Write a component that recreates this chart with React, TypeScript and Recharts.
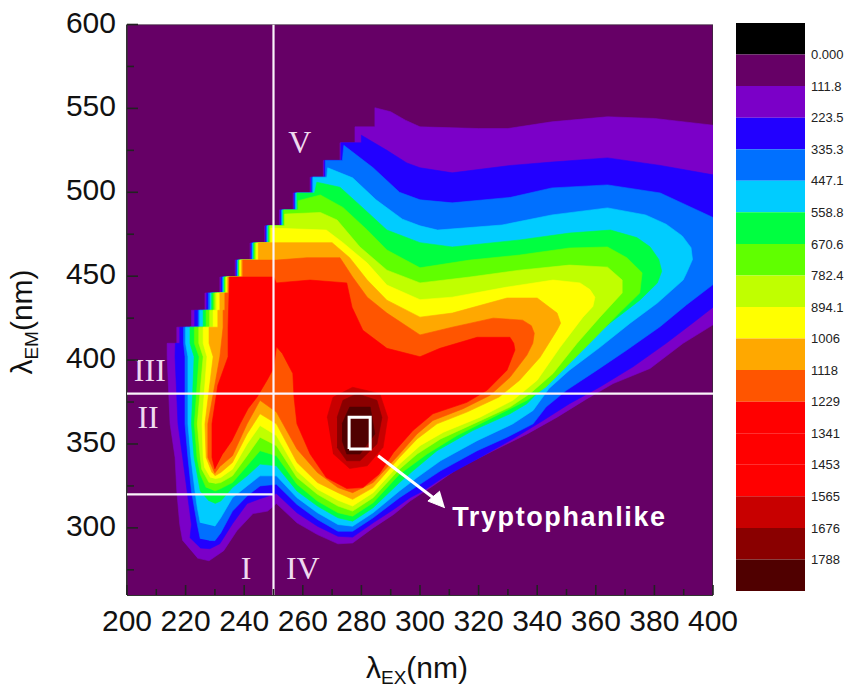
import React from 'react';
import { ScatterChart, Scatter, XAxis, YAxis, BarChart, Bar } from 'recharts';

type P = [number, number];

// Excitation / emission boundaries (nm) of every filled contour level
const plotFrame: P[] = [[200, 260], [200, 600], [400, 600], [400, 260]];
const level1: P[] = [[219,292.4],[218,302],[217,322],[216.4,342],[214.7,362],[213.7,402],[213.7,410],[217,410],[217,419.6],[222,419.6],[222,429.7],[226.6,429.7],[226.6,440],[231.7,440],[231.7,449.5],[236.9,449.5],[236.9,459.6],[242,459.6],[242,469.8],[247,469.8],[247,480],[252,480],[252,489.5],[256.7,489.5],[256.7,499.6],[262.5,499.6],[262.5,509],[267,509],[267,519],[272.7,519],[272.7,529.5],[277.8,529.5],[277.8,539],[284.6,539],[284.6,550.4],[290,548],[295,543],[300,539],[320,538],[330,538],[345,542],[364,545],[380,544],[400,540],[400,421],[389.8,410],[378.5,395],[365.9,386],[357,377],[346.8,366],[336.6,356],[325,346],[312.6,335],[304.4,325],[296.6,316],[291,308],[284,300],[277,291],[272,290.5],[265,296],[258,303],[251,314.5],[248,310],[243,308.5],[237.5,298.3],[233,286.4],[228,280.4],[224,282]];
const level2: P[] = [[221.5,294],[222,302],[220.5,322],[219,342],[217.4,362],[216.4,402],[216.5,410],[218,410],[218,419.6],[223.1,419.6],[223.1,429.7],[227.2,429.7],[227.2,440],[232.1,440],[232.1,449.5],[237.2,449.5],[237.2,459.6],[242.3,459.6],[242.3,469.8],[247.3,469.8],[247.3,480],[252.3,480],[252.3,489.5],[257,489.5],[257,499.6],[262.8,499.6],[262.8,509],[267.3,509],[267.3,519],[273,519],[273,529.5],[280,529.5],[280,534],[288.7,525],[295.5,517.5],[300,514.6],[311,511.6],[331,516],[345,518],[364,520.5],[382,516],[400,510.4],[400,431.5],[393,422],[384,410],[372.7,396],[361.4,384],[351,374],[342,364],[331.7,353],[320.5,342],[307.9,330],[301,322],[296.6,318],[291,311],[284,303],[277,294.5],[272,295],[265,301],[258,309],[251,320.5],[245.4,317.4],[241,314.5],[236,302.5],[231.7,290.6],[228.3,287.6],[225,288]];
const level3: P[] = [[225,293.5],[224,302],[222,322],[220.8,342],[219.8,362],[219.8,402],[219.3,410],[219.3,419.6],[224.3,419.6],[224.3,429.7],[227.8,429.7],[227.8,440],[232.5,440],[232.5,449.5],[237.5,449.5],[237.5,459.6],[242.6,459.6],[242.6,469.8],[247.6,469.8],[247.6,480],[252.6,480],[252.6,489.5],[257.3,489.5],[257.3,499.6],[263.1,499.6],[263.1,509],[267.7,509],[267.7,519],[273.5,519],[274,528],[284,514.6],[293,500],[300,495.5],[311,493.7],[331,497],[345,502.6],[364,504.4],[382,499.6],[400,485],[400,445],[391,433],[382,420],[370.6,406],[360.4,394],[350,382],[343,372],[338.6,362],[329.7,354],[319.5,346],[307,334],[300,326],[293,318],[284,306],[277,298],[272,298],[265,305],[258,314],[251,326],[245.4,325],[241,319],[236,310],[232,297],[230,292.4],[228,292.5]];
const level4: P[] = [[225,303],[224,312],[223.2,322],[221.8,342],[220.8,362],[220.8,402],[220,410],[220,419.6],[224.8,419.6],[224.8,429.7],[228.4,429.7],[228.4,440],[232.8,440],[232.8,449.5],[237.8,449.5],[237.8,459.6],[242.9,459.6],[242.9,469.8],[247.9,469.8],[247.9,480],[252.9,480],[252.9,489.5],[257.6,489.5],[257.6,499.6],[263.5,499.6],[263.5,509],[268.2,509],[268.5,514.6],[277,508.6],[285,495.5],[294,484],[300,480],[306,477.5],[328,480.5],[345,486.5],[364,490.7],[377,486.5],[384,481],[389.5,474],[392.5,467],[393,460],[391,452],[389.8,447.7],[381,434],[371.7,422],[361.4,407.6],[351,394],[344,383],[338.6,370],[331.7,362],[319.5,352],[307,340],[299,330],[293,322],[284,309],[277,301],[272,302],[265,309],[258,318],[251,331],[245.4,331],[241,325],[236,318],[232,306],[230,301]];
const level5: P[] = [[228,316],[225,322],[222.9,342],[222,362],[222.9,402],[221.5,410],[221.5,419.6],[226,419.6],[226,429.7],[228.9,429.7],[228.9,440],[233.1,440],[233.1,449.5],[238,449.5],[238,459.6],[243.2,459.6],[243.2,469.8],[248.2,469.8],[248.2,480],[253.2,480],[253.2,489.5],[258,489.5],[258,499.6],[264,499.6],[264.8,506],[272.7,503],[280.5,490.7],[288.7,477.5],[300,470],[311,467.4],[334,471.6],[351,475.7],[365,477.5],[374,473],[378.5,467.5],[381.5,460],[382.5,453],[381,446],[375,435.7],[364.8,422],[354.6,407.6],[346.8,394],[341,382],[336.5,374],[330.7,368],[318,358],[305.8,346],[297.6,334],[293,327],[284,312],[277,304],[272,306],[265,313],[258,322],[251,337],[245.4,338],[241,331],[236,324],[232,316],[230,314.5]];
const level6: P[] = [[227,324],[225,332],[223.9,342],[223,362],[224.6,402],[223,410],[223,419.6],[227,419.6],[227,429.7],[229.5,429.7],[229.5,440],[233.4,440],[233.4,449.5],[238.2,449.5],[238.2,459.6],[243.5,459.6],[243.5,469.8],[248.5,469.8],[248.5,480],[253.5,480],[253.5,489.5],[258.4,489.5],[258.4,495],[266,498.4],[273.7,491],[282,477.5],[288.7,465.6],[300,455],[317,459.6],[334,462.6],[351,466.8],[364,467.4],[370.6,461],[375.8,452],[375,440],[368,428],[359,412],[351,398],[343,384],[336.5,376],[325,366],[312.6,355],[302.4,344],[293,332],[284,315],[277,307],[272,309],[265,316],[258,326],[251,343],[245.4,346],[241,337],[236,327],[232,323.4],[230,322]];
const level7: P[] = [[228,327],[225.5,335],[225,342],[224,362],[226,402],[224.5,410],[224.5,419.6],[228.2,419.6],[228.2,429.7],[230,429.7],[230,440],[233.7,440],[233.7,449.5],[238.4,449.5],[238.4,459.6],[243.8,459.6],[243.8,469.8],[248.8,469.8],[248.8,480],[253.8,480],[253.8,487],[266,488],[271.7,483.5],[279.5,467.4],[288.7,453.6],[300,446],[317,449.5],[334,453.6],[351,456.6],[364,455.4],[369,447.7],[369,440],[361.4,425.6],[353.6,410],[345.4,392],[337.5,380],[330.7,372],[319.5,363],[307,353],[299,344],[293,335],[284,318],[277,310],[272,313],[265,320],[258,330],[251,349],[245.4,354],[241,343],[236,331],[232,327],[230,326.4]];
const level8: P[] = [[228.5,330],[226.5,336],[226,342],[225.6,362],[227.3,402],[226,410],[226,419.6],[229.4,419.6],[229.4,429.7],[230.6,429.7],[230.6,440],[233.9,440],[233.9,449.5],[238.6,449.5],[238.6,459.6],[244.2,459.6],[244.2,469.8],[249.1,469.8],[249.1,478.7],[268,477.5],[273.7,470],[282,457.8],[288.7,444.7],[300,436],[311,437.5],[329.7,443.5],[345.4,447.7],[354.6,446],[358,442],[359.7,437.5],[359,432],[355.6,425.6],[347.8,407.6],[340,388],[331.7,376],[320.5,366],[308,357],[300,349],[293,338],[284,321],[277,313],[272,316.5],[265,323],[258,334],[251,355],[245.4,361],[241,350],[236,335],[232,330],[230,329.3]];
const level9: P[] = [[229,333],[227,342],[226.6,362],[229.4,402],[228,410],[228,419.6],[231,419.6],[231,429.7],[231.7,429.7],[231.7,440],[234.2,440],[234.2,449.5],[239,449.5],[239,459.6],[244.8,459.6],[244.8,470],[270,470],[276,461],[282,447.7],[288.7,435.7],[300,425.6],[311,428],[329.7,437],[340,437],[346.8,428],[348,422],[346.8,418],[341,401.7],[334,388],[327,378],[316,369],[305.8,362],[299,353],[293,342],[284,324],[277,317],[272,321],[265,327],[258,339],[251,362],[245.4,368],[241,356],[236,339],[232,333],[230,331]];
const level10: P[] = [[230,332.4],[227.6,342],[227.6,362],[231.7,402],[232.8,419.6],[232.8,429.7],[233.4,429.7],[233.4,440],[234.7,440],[234.7,449.5],[239.5,449.5],[239.5,459.6],[251,459.6],[261.4,461],[272.7,461],[277,449.5],[282,437.5],[288.7,428],[300,415],[311,419.6],[325,425],[335,423.8],[338,420.5],[339,416],[338.5,410],[336.5,403],[330.7,389.7],[323.9,379],[314.7,371],[304.4,364],[299,356],[293,344],[284,327],[277,321],[272,324],[265,333],[258,347],[251,369],[245.4,376],[241,362],[236,343],[232,337]];
const level11: P[] = [[230,335],[229,342],[229,362],[231,385],[234.5,402],[234.5,420],[235,449.5],[250,449.5],[251,446],[262.5,447.7],[275,446],[276.8,431.5],[280.5,417.8],[288.7,407],[300,402],[306.8,407],[319.5,413.6],[330.7,413.6],[332,410],[332.4,406],[329.7,394],[322.9,382],[316,374.8],[304.4,368],[297.6,358],[291,345],[286,332],[280.5,324],[275,323.5],[268,330],[262.5,344],[258,362],[257,378],[256.6,392],[253,404],[251,408],[250,395],[247.8,388],[244.4,378],[241.3,371],[238.6,362],[235.8,352],[232.8,344.4]];
const level12: P[] = [[268.3,365.8],[270.3,377.8],[277,383.8],[286.3,380],[289,365.8],[287.4,348],[282,337],[276,335.4],[270.3,344.3]];
const level13: P[] = [[271.7,365.8],[273.7,376],[278.5,380],[285.3,376],[287,365.8],[285.3,350],[279.5,340],[275,340],[271.7,348]];
const level14: P[] = [[273.4,362],[276,372],[283,372],[284.6,356],[279.5,344],[275,344],[273.4,352]];

const levels: P[][] = [plotFrame, level1, level2, level3, level4, level5, level6, level7, level8, level9, level10, level11, level12, level13, level14];
const levelColors = ['#660066', '#7b00c8', '#2200ff', '#0070ff', '#00ccff', '#00ff40', '#60ff00', '#c0ff00', '#ffff00', '#ffa800', '#ff5500', '#ff0000', '#c80000', '#8a0000', '#500000'];

// White region dividers and annotations
const dividerV: P[] = [[250, 260], [250, 600]];
const dividerH: P[] = [[200, 380], [400, 380]];
const dividerLow: P[] = [[200, 320], [250, 320]];
const peakBox: P[] = [[275.8, 347], [275.8, 366], [283, 366], [283, 347], [275.8, 347]];
const arrowShaft: P[] = [[285.7, 343], [306, 316]];
const arrowHead: P[] = [[308.5, 312], [302.7, 316], [306.8, 322]];
const regionNames = ['III', 'II', 'I', 'IV', 'V'];
const regionX = [207.8, 207.2, 240.6, 260, 259];
const regionY = [394, 366, 276, 276, 530];
const peakName = 'Tryptophanlike';
const peakNamePos: P = [311, 301];

// Axes
const xMajor = [200, 220, 240, 260, 280, 300, 320, 340, 360, 380, 400];
const xMinor = [210, 230, 250, 270, 290, 310, 330, 350, 370, 390];
const yMajor = [300, 350, 400, 450, 500, 550, 600];
const yMinor = [275, 325, 375, 425, 475, 525, 575];

// Colour scale
const scaleLabels = ['0.000', '111.8', '223.5', '335.3', '447.1', '558.8', '670.6', '782.4', '894.1', '1006', '1118', '1229', '1341', '1453', '1565', '1676', '1788'];
const scaleColors = ['#000000', '#660066', '#7b00c8', '#2200ff', '#0070ff', '#00ccff', '#00ff40', '#60ff00', '#c0ff00', '#ffff00', '#ffa800', '#ff5500', '#ff0000', '#ff0000', '#ff0000', '#c80000', '#8a0000', '#500000'];
const scaleTicks = [1, 2, 3, 4, 5, 6, 7, 8, 9, 10, 11, 12, 13, 14, 15, 16, 17];

const toPts = (a: P[]) => a.map(([x, y]) => ({ x, y }));
const NoDot = () => <g />;
const SANS = '"Liberation Sans", Arial, sans-serif';

const XTick = ({ x, y, payload }: any) => {
  const major = xMajor.includes(payload.value);
  return (
    <g>
      <line x1={x} x2={x} y1={y} y2={y - (major ? 10 : 6)} stroke="#222" strokeWidth={1.6} />
      {major && <text x={x} y={y + 36} textAnchor="middle" fontSize={30} fontFamily={SANS} fill="#111">{payload.value}</text>}
    </g>
  );
};
const YTick = ({ x, y, payload }: any) => {
  const major = yMajor.includes(payload.value);
  return (
    <g>
      <line x1={x} x2={x + (major ? 11 : 7)} y1={y} y2={y} stroke="#222" strokeWidth={1.6} />
      {major && <text x={x - 11} y={y + 8} textAnchor="end" fontSize={30} fontFamily={SANS} fill="#111">{payload.value}</text>}
    </g>
  );
};

const RegionLabel = (p: any) => (
  <text x={p.cx} y={p.cy + 11} textAnchor="middle" fontSize={32} fontFamily='"Liberation Serif", serif' fill="#efd9ef">{p.payload.name}</text>
);
const PeakLabel = (p: any) => (
  <text x={p.cx} y={p.cy} fontSize={27} fontWeight="bold" letterSpacing={1.6} fontFamily={SANS} fill="#ffffff">{peakName}</text>
);

const xLabel = (p: any) => {
  const vb = p.viewBox;
  return (
    <text x={vb.x + vb.width / 2 - 3} y={vb.y + 83} textAnchor="middle" fontSize={30} fontFamily={SANS} fill="#111">
      λ<tspan fontSize={19} dy={6}>EX</tspan><tspan dy={-6}>(nm)</tspan>
    </text>
  );
};
const yLabel = () => (
  <text transform="rotate(-90 32 322)" x={32} y={322} textAnchor="middle" fontSize={30} fontFamily={SANS} fill="#111">
    λ<tspan fontSize={19} dy={6}>EM</tspan><tspan dy={-6}>(nm)</tspan>
  </text>
);

const white = { fill: 'none', stroke: '#fbf4fb', strokeWidth: 2.2 };

export default function App() {
  const scaleRow = [Object.fromEntries(scaleColors.map((_, i) => ['b' + i, 1]))];
  return (
    <div style={{ position: 'absolute', left: 0, top: 0, width: 856, height: 695, background: '#fff' }}>
      <div style={{ position: 'absolute', left: 0, top: 0 }}>
        <ScatterChart width={856} height={695} margin={{ top: 24.5, right: 143, bottom: 50, left: 27 }}>
          {levels.map((lv, i) => (
            <Scatter
              key={i}
              data={toPts(lv)}
              isAnimationActive={false}
              shape={NoDot}
              lineJointType="linear"
              line={{ fill: levelColors[i], stroke: i === 0 ? '#3a2a3a' : levelColors[i], strokeWidth: i === 0 ? 1.5 : 0.6 }}
            />
          ))}
          <Scatter data={toPts(dividerV)} isAnimationActive={false} shape={NoDot} line={white} />
          <Scatter data={toPts(dividerH)} isAnimationActive={false} shape={NoDot} line={white} />
          <Scatter data={toPts(dividerLow)} isAnimationActive={false} shape={NoDot} line={white} />
          <Scatter data={toPts(peakBox)} isAnimationActive={false} shape={NoDot} line={{ fill: 'none', stroke: '#fff', strokeWidth: 3 }} />
          <Scatter data={toPts(arrowShaft)} isAnimationActive={false} shape={NoDot} line={{ fill: 'none', stroke: '#fff', strokeWidth: 3 }} />
          <Scatter data={toPts(arrowHead)} isAnimationActive={false} shape={NoDot} line={{ fill: '#fff', stroke: '#fff', strokeWidth: 1 }} />
          <Scatter
            data={regionNames.map((name, i) => ({ name, x: regionX[i], y: regionY[i] }))}
            isAnimationActive={false}
            shape={RegionLabel}
          />
          <Scatter data={[{ x: peakNamePos[0], y: peakNamePos[1] }]} isAnimationActive={false} shape={PeakLabel} />
          <XAxis
            type="number"
            dataKey="x"
            domain={[200, 400]}
            ticks={[...xMajor, ...xMinor].sort((a, b) => a - b)}
            interval={0}
            allowDataOverflow
            height={50}
            tickSize={0}
            tickMargin={0}
            tickLine={false}
            tick={<XTick />}
            axisLine={{ stroke: '#333', strokeWidth: 2 }}
            label={xLabel}
          />
          <YAxis
            type="number"
            dataKey="y"
            domain={[260, 600]}
            ticks={[...yMajor, ...yMinor].sort((a, b) => a - b)}
            interval={0}
            allowDataOverflow
            width={100}
            tickSize={0}
            tickMargin={0}
            tickLine={false}
            tick={<YTick />}
            axisLine={{ stroke: '#333', strokeWidth: 2 }}
            label={yLabel}
          />
        </ScatterChart>
      </div>
      <div style={{ position: 'absolute', left: 736, top: 23 }}>
        <BarChart width={115} height={568} data={scaleRow} margin={{ top: 0, right: 0, bottom: 0, left: 0 }} barCategoryGap={0} stackOffset="none">
          <XAxis dataKey={() => 'scale'} hide />
          <YAxis
            orientation="right"
            width={46}
            type="number"
            reversed
            domain={[0, 18]}
            ticks={scaleTicks}
            interval={0}
            tickFormatter={(v: number) => scaleLabels[v - 1]}
            tickSize={0}
            tickMargin={6}
            axisLine={false}
            tickLine={false}
            tick={{ fontSize: 13, fontFamily: SANS, fill: '#222' }}
          />
          {scaleColors.map((c, i) => (
            <Bar key={i} dataKey={'b' + i} stackId="s" fill={c} isAnimationActive={false} />
          ))}
        </BarChart>
      </div>
    </div>
  );
}
